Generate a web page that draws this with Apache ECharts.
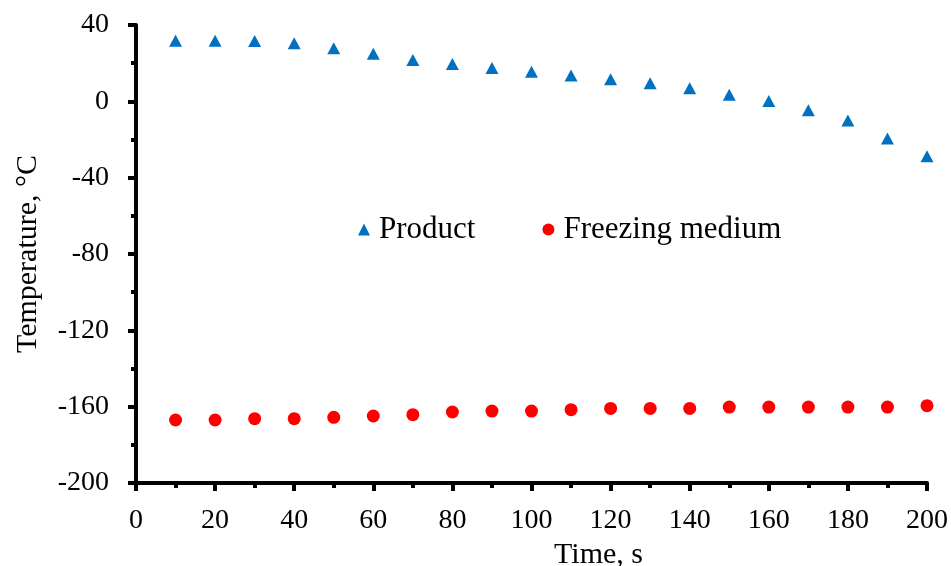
<!DOCTYPE html>
<html>
<head>
<meta charset="utf-8">
<script src="https://cdn.jsdelivr.net/npm/echarts@6/dist/echarts.min.js"></script>
<style>
html,body{margin:0;padding:0;background:#fff;}
#chart{width:951px;height:566px;}
</style>
</head>
<body>
<div id="chart"></div>
<script>
const timeSec = [10,20,30,40,50,60,70,80,90,100,110,120,130,140,150,160,170,180,190,200];
const productTemp = [31.7,31.7,31.6,30.4,27.8,25.0,21.7,19.6,17.5,15.5,13.5,11.6,9.5,6.9,3.5,0.2,-4.7,-10.1,-19.5,-28.8];
const mediumTemp = [-167.0,-167.0,-166.3,-166.3,-165.6,-164.9,-164.2,-162.8,-162.3,-162.3,-161.6,-160.9,-160.9,-160.9,-160.2,-160.2,-160.2,-160.2,-160.2,-159.5];
const seriesNames = ['Product','Freezing medium'];
const xTitle = 'Time, s';
const yTitle = 'Temperature, °C';

const font = 'Liberation Serif';
const chart = echarts.init(document.getElementById('chart'), null, {renderer:'canvas'});
const axisCommon = {
  axisLine:{show:true,onZero:false,lineStyle:{color:'#000',width:4}},
  axisTick:{show:true,inside:false,length:8,lineStyle:{color:'#000',width:4}},
  minorTick:{show:true,splitNumber:2,length:5,lineStyle:{color:'#000',width:4}},
  splitLine:{show:false},
  minorSplitLine:{show:false}
};
chart.setOption({
  animation:false,
  backgroundColor:'#fff',
  grid:{left:136,right:24,top:25,bottom:83,containLabel:false,outerBoundsMode:'none'},
  legend:{
    left:353, top:209,
    itemWidth:12, itemHeight:12, itemGap:67,
    textStyle:{fontFamily:font,fontSize:31,color:'#000',padding:[0,0,0,4]},
    data:[{name:seriesNames[0],icon:'triangle'},{name:seriesNames[1],icon:'circle'}]
  },
  xAxis:Object.assign({
    type:'value',min:0,max:200,interval:20,
    name:xTitle,nameLocation:'middle',nameGap:46,
    nameTextStyle:{fontFamily:font,fontSize:30,color:'#000',padding:[0,0,0,134]},
    axisLabel:{fontFamily:font,fontSize:28,color:'#000',margin:24}
  },axisCommon),
  yAxis:Object.assign({
    type:'value',min:-200,max:40,interval:40,
    name:yTitle,nameLocation:'middle',nameGap:93,
    nameTextStyle:{fontFamily:font,fontSize:30,color:'#000'},
    axisLabel:{fontFamily:font,fontSize:28,color:'#000',margin:27}
  },axisCommon),
  series:[
    {name:seriesNames[0],type:'scatter',symbol:'triangle',symbolSize:[13,12],
     itemStyle:{color:'#0070C0',opacity:1},
     data:timeSec.map((t,i)=>[t,productTemp[i]])},
    {name:seriesNames[1],type:'scatter',symbol:'circle',symbolSize:13,
     itemStyle:{color:'#FF0000',opacity:1},
     data:timeSec.map((t,i)=>[t,mediumTemp[i]])}
  ]
});
</script>
</body>
</html>
